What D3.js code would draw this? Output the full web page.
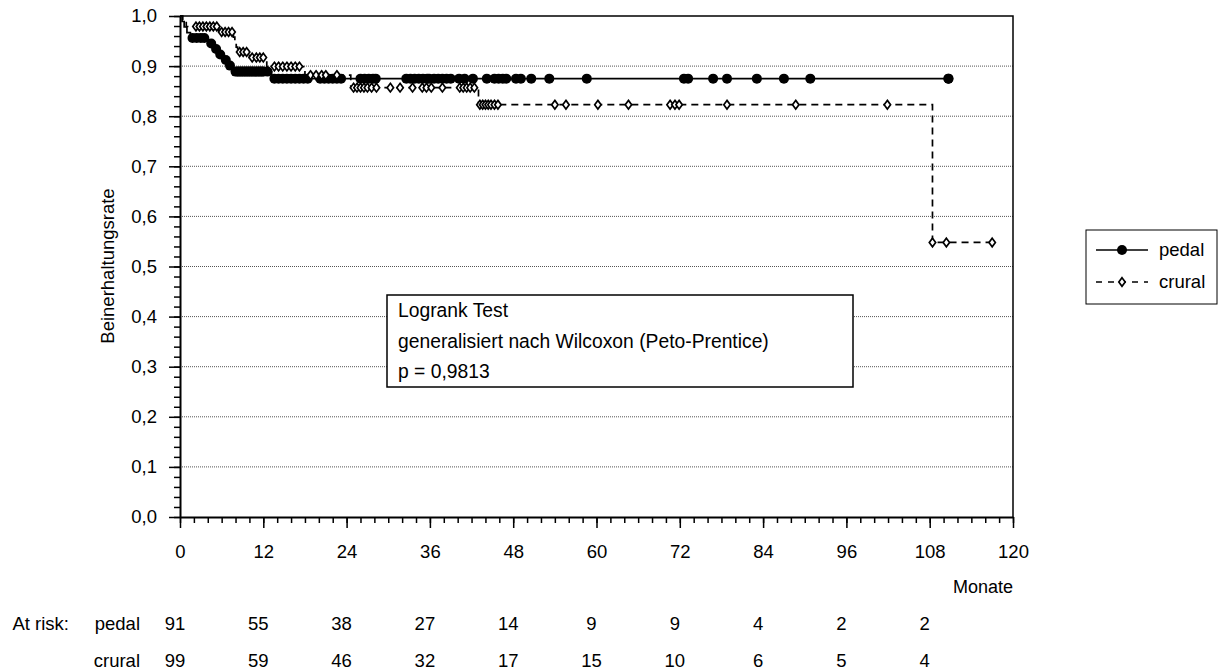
<!DOCTYPE html>
<html>
<head>
<meta charset="utf-8">
<script src="https://cdn.jsdelivr.net/npm/d3@7"></script>
<style>
    body { margin: 0; background: #fff; }
    svg text { font-family: "Liberation Sans", Arial, sans-serif; fill: #000; }
</style>
</head>
<body>
<svg id="km-chart" width="1224" height="672"></svg>
<script>

// Kaplan-Meier steps (months, rate after the step)
let pedalStepTimes = [0, 0.3, 0.6, 1.0, 1.5, 4.0, 5.0, 5.5, 6.3, 7.0, 7.6, 13.2];
let pedalStepRates = [1.0, 0.989, 0.978, 0.967, 0.956, 0.945, 0.934, 0.923, 0.912, 0.901, 0.889, 0.875];
let pedalLastMonth = 110.7;
let pedalCensored = [1.8, 2.4, 3.0, 3.5, 4.5, 5.2, 5.8, 6.6, 7.2, 8.0, 8.3, 8.5, 8.8, 9.0, 9.3, 9.5, 9.8,
    10.0, 10.3, 10.5, 10.8, 11.0, 11.3, 11.5, 11.8, 12.0, 12.6, 13.6, 14.2, 14.8, 15.4, 16.0, 16.6,
    17.2, 17.8, 18.4, 20.2, 20.8, 21.4, 22.0, 22.6, 23.2, 26.0, 26.6, 27.2, 27.8, 28.2, 32.6, 33.2,
    33.8, 34.4, 35.0, 35.6, 35.9, 36.6, 37.2, 37.8, 38.4, 39.0, 40.2, 41.0, 42.2, 44.2, 45.3, 45.9,
    46.5, 47.0, 48.4, 49.1, 50.6, 53.2, 58.6, 72.6, 73.2, 76.8, 78.8, 83.1, 87.0, 90.8, 110.7, 110.7];

let cruralStepTimes = [0, 0.4, 0.9, 5.6, 7.7, 7.9, 8.1, 8.3, 10.0, 12.5, 18.0, 24.6, 43.0, 108.4];
let cruralStepRates = [1.0, 0.99, 0.979, 0.968, 0.958, 0.948, 0.938, 0.928, 0.917, 0.899, 0.882, 0.857, 0.823, 0.548];
let cruralLastMonth = 117.0;
let cruralCensored = [2.3, 2.8, 3.3, 3.8, 4.3, 4.8, 5.3, 6.0, 6.5, 7.0, 7.5, 8.6, 9.1, 9.6, 10.4, 11.0,
    11.5, 12.0, 13.6, 14.2, 14.8, 15.4, 16.0, 16.6, 17.2, 18.8, 19.6, 20.4, 21.0, 22.6, 25.0, 25.5,
    26.0, 26.5, 27.0, 27.6, 28.3, 30.3, 31.7, 33.5, 34.9, 35.5, 36.2, 37.8, 40.3, 40.8, 41.3, 41.8,
    42.4, 43.2, 43.6, 44.0, 44.4, 44.8, 45.3, 45.8, 54.0, 55.6, 60.2, 64.6, 70.6, 71.3, 71.9, 78.8,
    88.7, 101.9, 108.4, 110.4, 117.0];

// Axis ticks
let monthTicks = [0, 12, 24, 36, 48, 60, 72, 84, 96, 108, 120];
let rateTicks = [0, 0.1, 0.2, 0.3, 0.4, 0.5, 0.6, 0.7, 0.8, 0.9, 1.0];

// Numbers at risk
let riskMonths = [0, 12, 24, 36, 48, 60, 72, 84, 96, 108];
let riskPedal = [91, 55, 38, 27, 14, 9, 9, 4, 2, 2];
let riskCrural = [99, 59, 46, 32, 17, 15, 10, 6, 5, 4];

let testLines = ["Logrank Test", "generalisiert nach Wilcoxon (Peto-Prentice)", "p = 0,9813"];


let kmChart = {
    left: 180, right: 1013, top: 16, bottom: 517,
    x: null,
    y: null,
    svg: d3.select("#km-chart")
};

kmChart.x = d3.scaleLinear().domain([0, 120]).range([kmChart.left, kmChart.right]);
kmChart.y = d3.scaleLinear().domain([0, 1]).range([kmChart.bottom, kmChart.top]);

drawGrid();
drawCurve(pedalStepTimes, pedalStepRates, pedalLastMonth, null);
drawCurve(cruralStepTimes, cruralStepRates, cruralLastMonth, "7,5");
drawCensored(pedalStepTimes, pedalStepRates, pedalCensored, "circle");
drawCensored(cruralStepTimes, cruralStepRates, cruralCensored, "diamond");
drawAxes();
drawTestBox();
drawLegend();
drawAtRisk();


// rate of the step function at month t
function rateAt(times, rates, t) {
    let r = rates[0];
    for (let i = 0; i < times.length; i++) {
        if (times[i] <= t) r = rates[i];
    }
    return r;
}

function drawGrid() {
    kmChart.svg.append("g")
        .selectAll("line")
        .data(rateTicks.filter(d => d > 0 && d < 1))
        .enter()
        .append("line")
        .attr("x1", kmChart.left)
        .attr("x2", kmChart.right)
        .attr("y1", d => kmChart.y(d))
        .attr("y2", d => kmChart.y(d))
        .attr("stroke", "#555")
        .attr("stroke-width", 1)
        .attr("stroke-dasharray", "1,1");
}

function drawCurve(times, rates, lastMonth, dash) {
    let points = times.map((t, i) => ({month: t, rate: rates[i]}));
    points.push({month: lastMonth, rate: rates[rates.length - 1]});

    kmChart.svg.append("path")
        .datum(points)
        .attr("fill", "none")
        .attr("stroke", "#000")
        .attr("stroke-width", 1.7)
        .attr("stroke-dasharray", dash)
        .attr("d", d3.line()
            .x(d => kmChart.x(d.month))
            .y(d => kmChart.y(d.rate))
            .curve(d3.curveStepAfter));
}

function drawCensored(times, rates, censored, shape) {
    let marks = kmChart.svg.append("g")
        .selectAll("path")
        .data(censored)
        .enter();

    if (shape === "circle") {
        marks.append("circle")
            .attr("cx", d => kmChart.x(d))
            .attr("cy", d => kmChart.y(rateAt(times, rates, d)))
            .attr("r", 5)
            .attr("fill", "#000");
    } else {
        marks.append("path")
            .attr("d", "M0,-4.3L3.2,0L0,4.3L-3.2,0Z")
            .attr("transform", d => "translate(" + kmChart.x(d) + "," + kmChart.y(rateAt(times, rates, d)) + ")")
            .attr("fill", "#fff")
            .attr("stroke", "#000")
            .attr("stroke-width", 1.7);
    }
}

function styleAxisText(g) {
    g.selectAll("text")
        .style("font-family", '"Liberation Sans", Arial, sans-serif')
        .style("font-size", "18.5px");
    g.selectAll("line").attr("stroke", "#000").attr("stroke-width", 1.5);
}

function drawAxes() {
    // minor ticks first
    kmChart.svg.append("g")
        .attr("transform", "translate(" + kmChart.left + ",0)")
        .call(d3.axisLeft(kmChart.y)
            .tickValues(d3.range(0, 51).map(i => i / 50))
            .tickSize(6).tickSizeOuter(0).tickFormat(""))
        .call(styleAxisText)
        .select(".domain").remove();

    kmChart.svg.append("g")
        .attr("transform", "translate(0," + kmChart.bottom + ")")
        .call(d3.axisBottom(kmChart.x)
            .tickValues(d3.range(0, 61).map(i => i * 2))
            .tickSize(6).tickSizeOuter(0).tickFormat(""))
        .call(styleAxisText)
        .select(".domain").remove();

    let yAxis = kmChart.svg.append("g")
        .attr("transform", "translate(" + kmChart.left + ",0)")
        .call(d3.axisLeft(kmChart.y)
            .tickValues(rateTicks)
            .tickSize(11).tickSizeOuter(0).tickPadding(12)
            .tickFormat(d => d3.format(".1f")(d).replace(".", ",")))
        .call(styleAxisText);
    yAxis.select(".domain").attr("stroke-width", 2);

    let xAxis = kmChart.svg.append("g")
        .attr("transform", "translate(0," + kmChart.bottom + ")")
        .call(d3.axisBottom(kmChart.x)
            .tickValues(monthTicks)
            .tickSize(11).tickSizeOuter(0).tickPadding(17))
        .call(styleAxisText);
    xAxis.select(".domain").attr("stroke-width", 2);

    // top and right frame
    kmChart.svg.append("path")
        .attr("d", "M" + kmChart.left + "," + kmChart.top + "H" + kmChart.right + "V" + kmChart.bottom)
        .attr("fill", "none")
        .attr("stroke", "#000")
        .attr("stroke-width", 1.5);

    kmChart.svg.append("text")
        .attr("transform", "translate(114,266) rotate(-90)")
        .attr("text-anchor", "middle")
        .style("font-size", "18.5px")
        .text("Beinerhaltungsrate");

    kmChart.svg.append("text")
        .attr("x", kmChart.right)
        .attr("y", 593)
        .attr("text-anchor", "end")
        .style("font-size", "18px")
        .text("Monate");
}

function drawTestBox() {
    kmChart.svg.append("rect")
        .attr("x", 387).attr("y", 295)
        .attr("width", 466).attr("height", 92)
        .attr("fill", "#fff")
        .attr("stroke", "#000")
        .attr("stroke-width", 1.5);

    kmChart.svg.append("g")
        .selectAll("text")
        .data(testLines)
        .enter()
        .append("text")
        .attr("x", 398)
        .attr("y", (d, i) => 317 + i * 30.5)
        .style("font-size", "19.3px")
        .text(d => d);
}

function drawLegend() {
    let legend = kmChart.svg.append("g");

    legend.append("rect")
        .attr("x", 1086).attr("y", 230)
        .attr("width", 131).attr("height", 74)
        .attr("fill", "#fff")
        .attr("stroke", "#000")
        .attr("stroke-width", 1);

    legend.append("line")
        .attr("x1", 1096).attr("x2", 1148)
        .attr("y1", 250).attr("y2", 250)
        .attr("stroke", "#000").attr("stroke-width", 1.7);
    legend.append("circle")
        .attr("cx", 1122).attr("cy", 250).attr("r", 5)
        .attr("fill", "#000");
    legend.append("text")
        .attr("x", 1159).attr("y", 256)
        .style("font-size", "18.5px")
        .text("pedal");

    legend.append("line")
        .attr("x1", 1096).attr("x2", 1148)
        .attr("y1", 282).attr("y2", 282)
        .attr("stroke", "#000").attr("stroke-width", 1.7)
        .attr("stroke-dasharray", "6,6");
    legend.append("path")
        .attr("d", "M0,-4.3L3.2,0L0,4.3L-3.2,0Z")
        .attr("transform", "translate(1122,282)")
        .attr("fill", "#fff")
        .attr("stroke", "#000")
        .attr("stroke-width", 1.7);
    legend.append("text")
        .attr("x", 1159).attr("y", 288)
        .style("font-size", "18.5px")
        .text("crural");
}

function drawAtRisk() {
    kmChart.svg.append("text")
        .attr("x", 69).attr("y", 630)
        .attr("text-anchor", "end")
        .style("font-size", "18.5px")
        .text("At risk:");

    let rows = [{name: "pedal", values: riskPedal, y: 630}, {name: "crural", values: riskCrural, y: 667}];

    rows.forEach(function (row) {
        kmChart.svg.append("text")
            .attr("x", 140).attr("y", row.y)
            .attr("text-anchor", "end")
            .style("font-size", "18.5px")
            .text(row.name);

        kmChart.svg.append("g")
            .selectAll("text")
            .data(row.values)
            .enter()
            .append("text")
            .attr("x", (d, i) => kmChart.x(riskMonths[i]) - 5)
            .attr("y", row.y)
            .attr("text-anchor", "middle")
            .style("font-size", "18.5px")
            .text(d => d);
    });
}

</script>
</body>
</html>
